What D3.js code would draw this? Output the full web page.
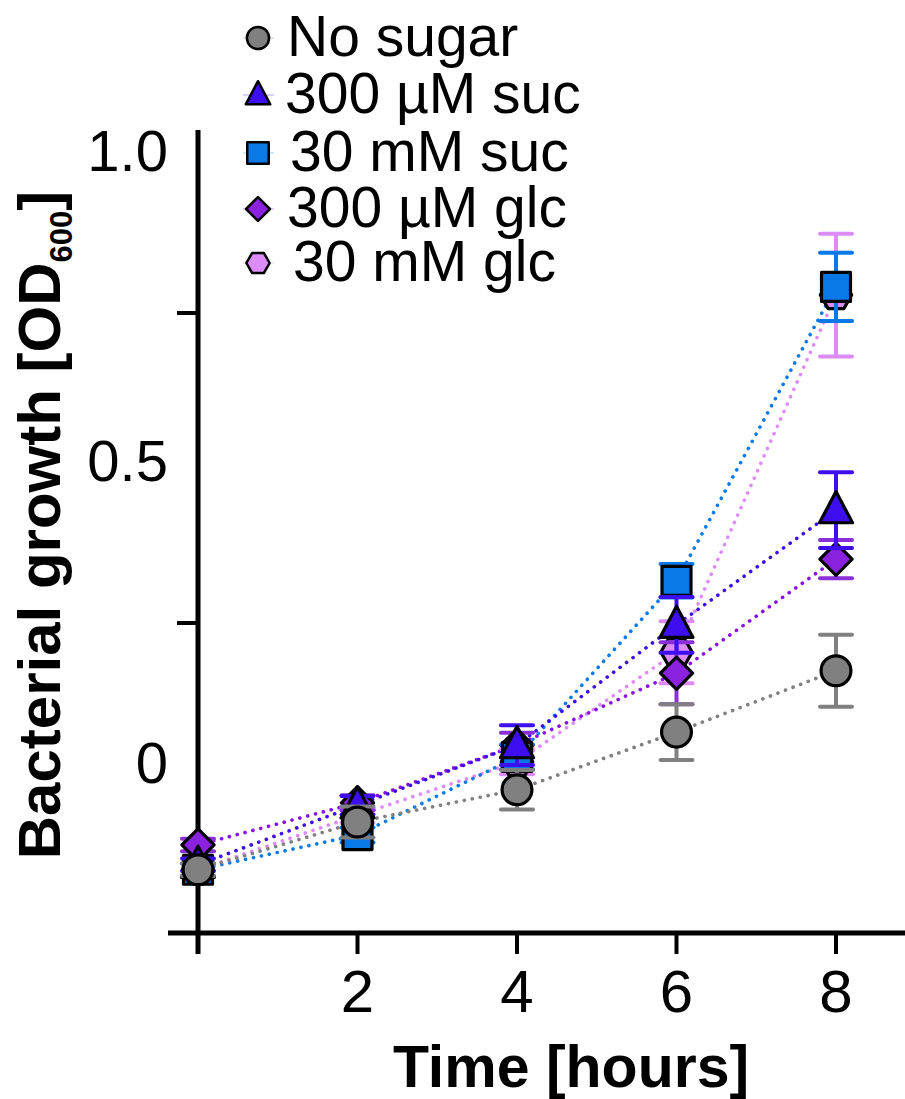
<!DOCTYPE html>
<html>
<head>
<meta charset="utf-8">
<script src="https://cdn.jsdelivr.net/npm/d3@7"></script>
<style>
  html, body { margin: 0; padding: 0; background: #fff; }
  svg { display: block; font-family: "Liberation Sans", Arial, sans-serif; }
</style>
</head>
<body>
<svg id="chart" width="905" height="1099"></svg>
<script>
// 시간 (hours)
const hours = [0, 2, 4, 6, 8];
const xTicks = [2, 4, 6, 8];
const yLabels = [0, 0.5, 1.0];
const yTickMarks = [0.25, 0.75];

// 각 조건별 OD600 평균값
const noSugar = [-0.148, -0.071, -0.019, 0.074, 0.173];
const suc300uM = [-0.140, -0.044, 0.053, 0.247, 0.432];
const suc30mM = [-0.148, -0.092, 0.034, 0.318, 0.792];
const glc300uM = [-0.108, -0.040, 0.053, 0.169, 0.353];
const glc30mM = [-0.148, -0.060, 0.026, 0.203, 0.779];

// 오차 막대 (±)
const noSugarErr = [0.01, 0.025, 0.032, 0.045, 0.058];
const suc300uMErr = [0.01, 0.015, 0.032, 0.045, 0.061];
const suc30mMErr = [0.01, 0.012, 0.02, 0.027, 0.055];
const glc300uMErr = [0.01, 0.012, 0.02, 0.05, 0.031];
const glc30mMErr = [0.01, 0.012, 0.02, 0.05, 0.099];

const seriesNames = ["No sugar", "300 µM suc", "30 mM suc", "300 µM glc", "30 mM glc"];

(function () {
  const svg = d3.select("#chart");

  const x = d3.scaleLinear().domain([0, 8]).range([198, 836]);
  const y = d3.scaleLinear().domain([-0.25, 1.0]).range([933, 158]);

  // 마커 모양
  const hexagon = {
    draw(ctx, size) {
      const r = Math.sqrt(size / 2.598);
      for (let i = 0; i < 6; i++) {
        const a = (Math.PI / 3) * i;
        const px = r * Math.cos(a), py = r * Math.sin(a);
        i === 0 ? ctx.moveTo(px, py) : ctx.lineTo(px, py);
      }
      ctx.closePath();
    },
  };
  const diamond = {
    draw(ctx, size) {
      const r = Math.sqrt(size / 2);
      ctx.moveTo(0, -r); ctx.lineTo(r, 0); ctx.lineTo(0, r); ctx.lineTo(-r, 0);
      ctx.closePath();
    },
  };
  const triangle = {
    draw(ctx, size) {
      const s = Math.sqrt(size);
      ctx.moveTo(0, -s * 0.62); ctx.lineTo(s * 0.55, s * 0.42); ctx.lineTo(-s * 0.55, s * 0.42);
      ctx.closePath();
    },
  };

  const series = {
    "No sugar": { values: noSugar, err: noSugarErr, fill: "#808080", line: "#808080", type: d3.symbolCircle, size: 700 },
    "300 µM suc": { values: suc300uM, err: suc300uMErr, fill: "#3d0ff0", line: "#3d0ff0", type: triangle, size: 900 },
    "30 mM suc": { values: suc30mM, err: suc30mMErr, fill: "#0b78e8", line: "#0b7ae9", type: d3.symbolSquare, size: 840 },
    "300 µM glc": { values: glc300uM, err: glc300uMErr, fill: "#8a22e0", line: "#8a10e8", errColor: "#8a30d8", type: diamond, size: 520 },
    "30 mM glc": { values: glc30mM, err: glc30mMErr, fill: "#dd8cf7", line: "#dd8cf7", type: hexagon, size: 640 },
  };

  // 축
  const axis = svg.append("g").attr("stroke", "#000").attr("stroke-width", 5);
  axis.append("line").attr("x1", x(0)).attr("x2", x(0)).attr("y1", 130).attr("y2", 954);
  axis.append("line").attr("x1", 168).attr("x2", 905).attr("y1", y(-0.25)).attr("y2", y(-0.25));
  axis.selectAll(".xt").data(xTicks).join("line")
    .attr("x1", (d) => x(d)).attr("x2", (d) => x(d))
    .attr("y1", y(-0.25)).attr("y2", 954)
    .attr("stroke-width", 4);
  axis.selectAll(".yt").data(yTickMarks).join("line")
    .attr("x1", 177).attr("x2", x(0))
    .attr("y1", (d) => y(d)).attr("y2", (d) => y(d))
    .attr("stroke-width", 4);

  // 눈금 라벨
  svg.append("g").selectAll("text").data(xTicks).join("text")
    .attr("x", (d) => x(d)).attr("y", 1012)
    .attr("text-anchor", "middle").attr("font-size", 60)
    .text((d) => d);
  svg.append("g").selectAll("text").data(yLabels).join("text")
    .attr("x", 168).attr("y", (d) => y(d) + 13 - (d === 0 ? 8 : 0))
    .attr("text-anchor", "end").attr("font-size", 58)
    .text((d) => (d === 0 ? "0" : d.toFixed(1)));

  // 축 제목
  svg.append("text")
    .attr("x", 571).attr("y", 1087)
    .attr("text-anchor", "middle").attr("font-size", 59).attr("font-weight", "bold")
    .text("Time [hours]");
  const yTitle = svg.append("text")
    .attr("transform", "translate(60,525) rotate(-90)")
    .attr("text-anchor", "middle").attr("font-size", 60).attr("font-weight", "bold");
  yTitle.append("tspan").text("Bacterial growth [OD");
  yTitle.append("tspan").attr("font-size", 31).attr("dy", 12).text("600");
  yTitle.append("tspan").attr("dy", -12).text("]");

  // 점선
  const lineGen = d3.line().x((d, i) => x(hours[i])).y((d) => y(d));
  const drawOrder = ["30 mM glc", "300 µM glc", "30 mM suc", "300 µM suc", "No sugar"];
  svg.append("g").selectAll("path").data(drawOrder).join("path")
    .attr("d", (k) => lineGen(series[k].values))
    .attr("fill", "none")
    .attr("stroke", (k) => series[k].line)
    .attr("stroke-width", 3.6)
    .attr("stroke-linecap", "round")
    .attr("stroke-dasharray", "0.1 8");

  // 오차 막대 + 마커
  drawOrder.forEach((k) => {
    const s = series[k];
    const g = svg.append("g");
    const ec = s.errColor || s.fill;
    hours.forEach((h, i) => {
      const top = y(s.values[i] + s.err[i]);
      const bot = y(s.values[i] - s.err[i]);
      g.append("line").attr("x1", x(h)).attr("x2", x(h)).attr("y1", top).attr("y2", bot)
        .attr("stroke", ec).attr("stroke-width", 4);
      [top, bot].forEach((yy) =>
        g.append("line").attr("x1", x(h) - 16).attr("x2", x(h) + 16).attr("y1", yy).attr("y2", yy)
          .attr("stroke", ec).attr("stroke-width", 4).attr("stroke-linecap", "round"));
    });
    g.selectAll("path").data(s.values).join("path")
      .attr("d", d3.symbol().type(s.type).size(s.size))
      .attr("transform", (d, i) => `translate(${x(hours[i])},${y(d)})`)
      .attr("fill", s.fill)
      .attr("stroke", "#000")
      .attr("stroke-width", 3.2)
      .attr("stroke-linejoin", "round");
  });

  // 범례
  const legendY = [38, 95, 153, 209, 263];
  const legendTextX = [287, 285, 290, 287, 293];
  const legend = svg.append("g");
  seriesNames.forEach((k, i) => {
    const s = series[k];
    legend.append("line").attr("x1", 243).attr("x2", 274).attr("y1", legendY[i]).attr("y2", legendY[i])
      .attr("stroke", s.line).attr("stroke-width", 1).attr("stroke-opacity", 0.4);
    legend.append("path")
      .attr("d", d3.symbol().type(s.type).size(s.size * 0.55)())
      .attr("transform", `translate(258,${legendY[i]})`)
      .attr("fill", s.fill).attr("stroke", "#000").attr("stroke-width", 2.5)
      .attr("stroke-linejoin", "round");
    legend.append("text")
      .attr("x", legendTextX[i]).attr("y", legendY[i] + 18)
      .attr("font-size", 57)
      .text(k);
  });
})();
</script>
</body>
</html>
